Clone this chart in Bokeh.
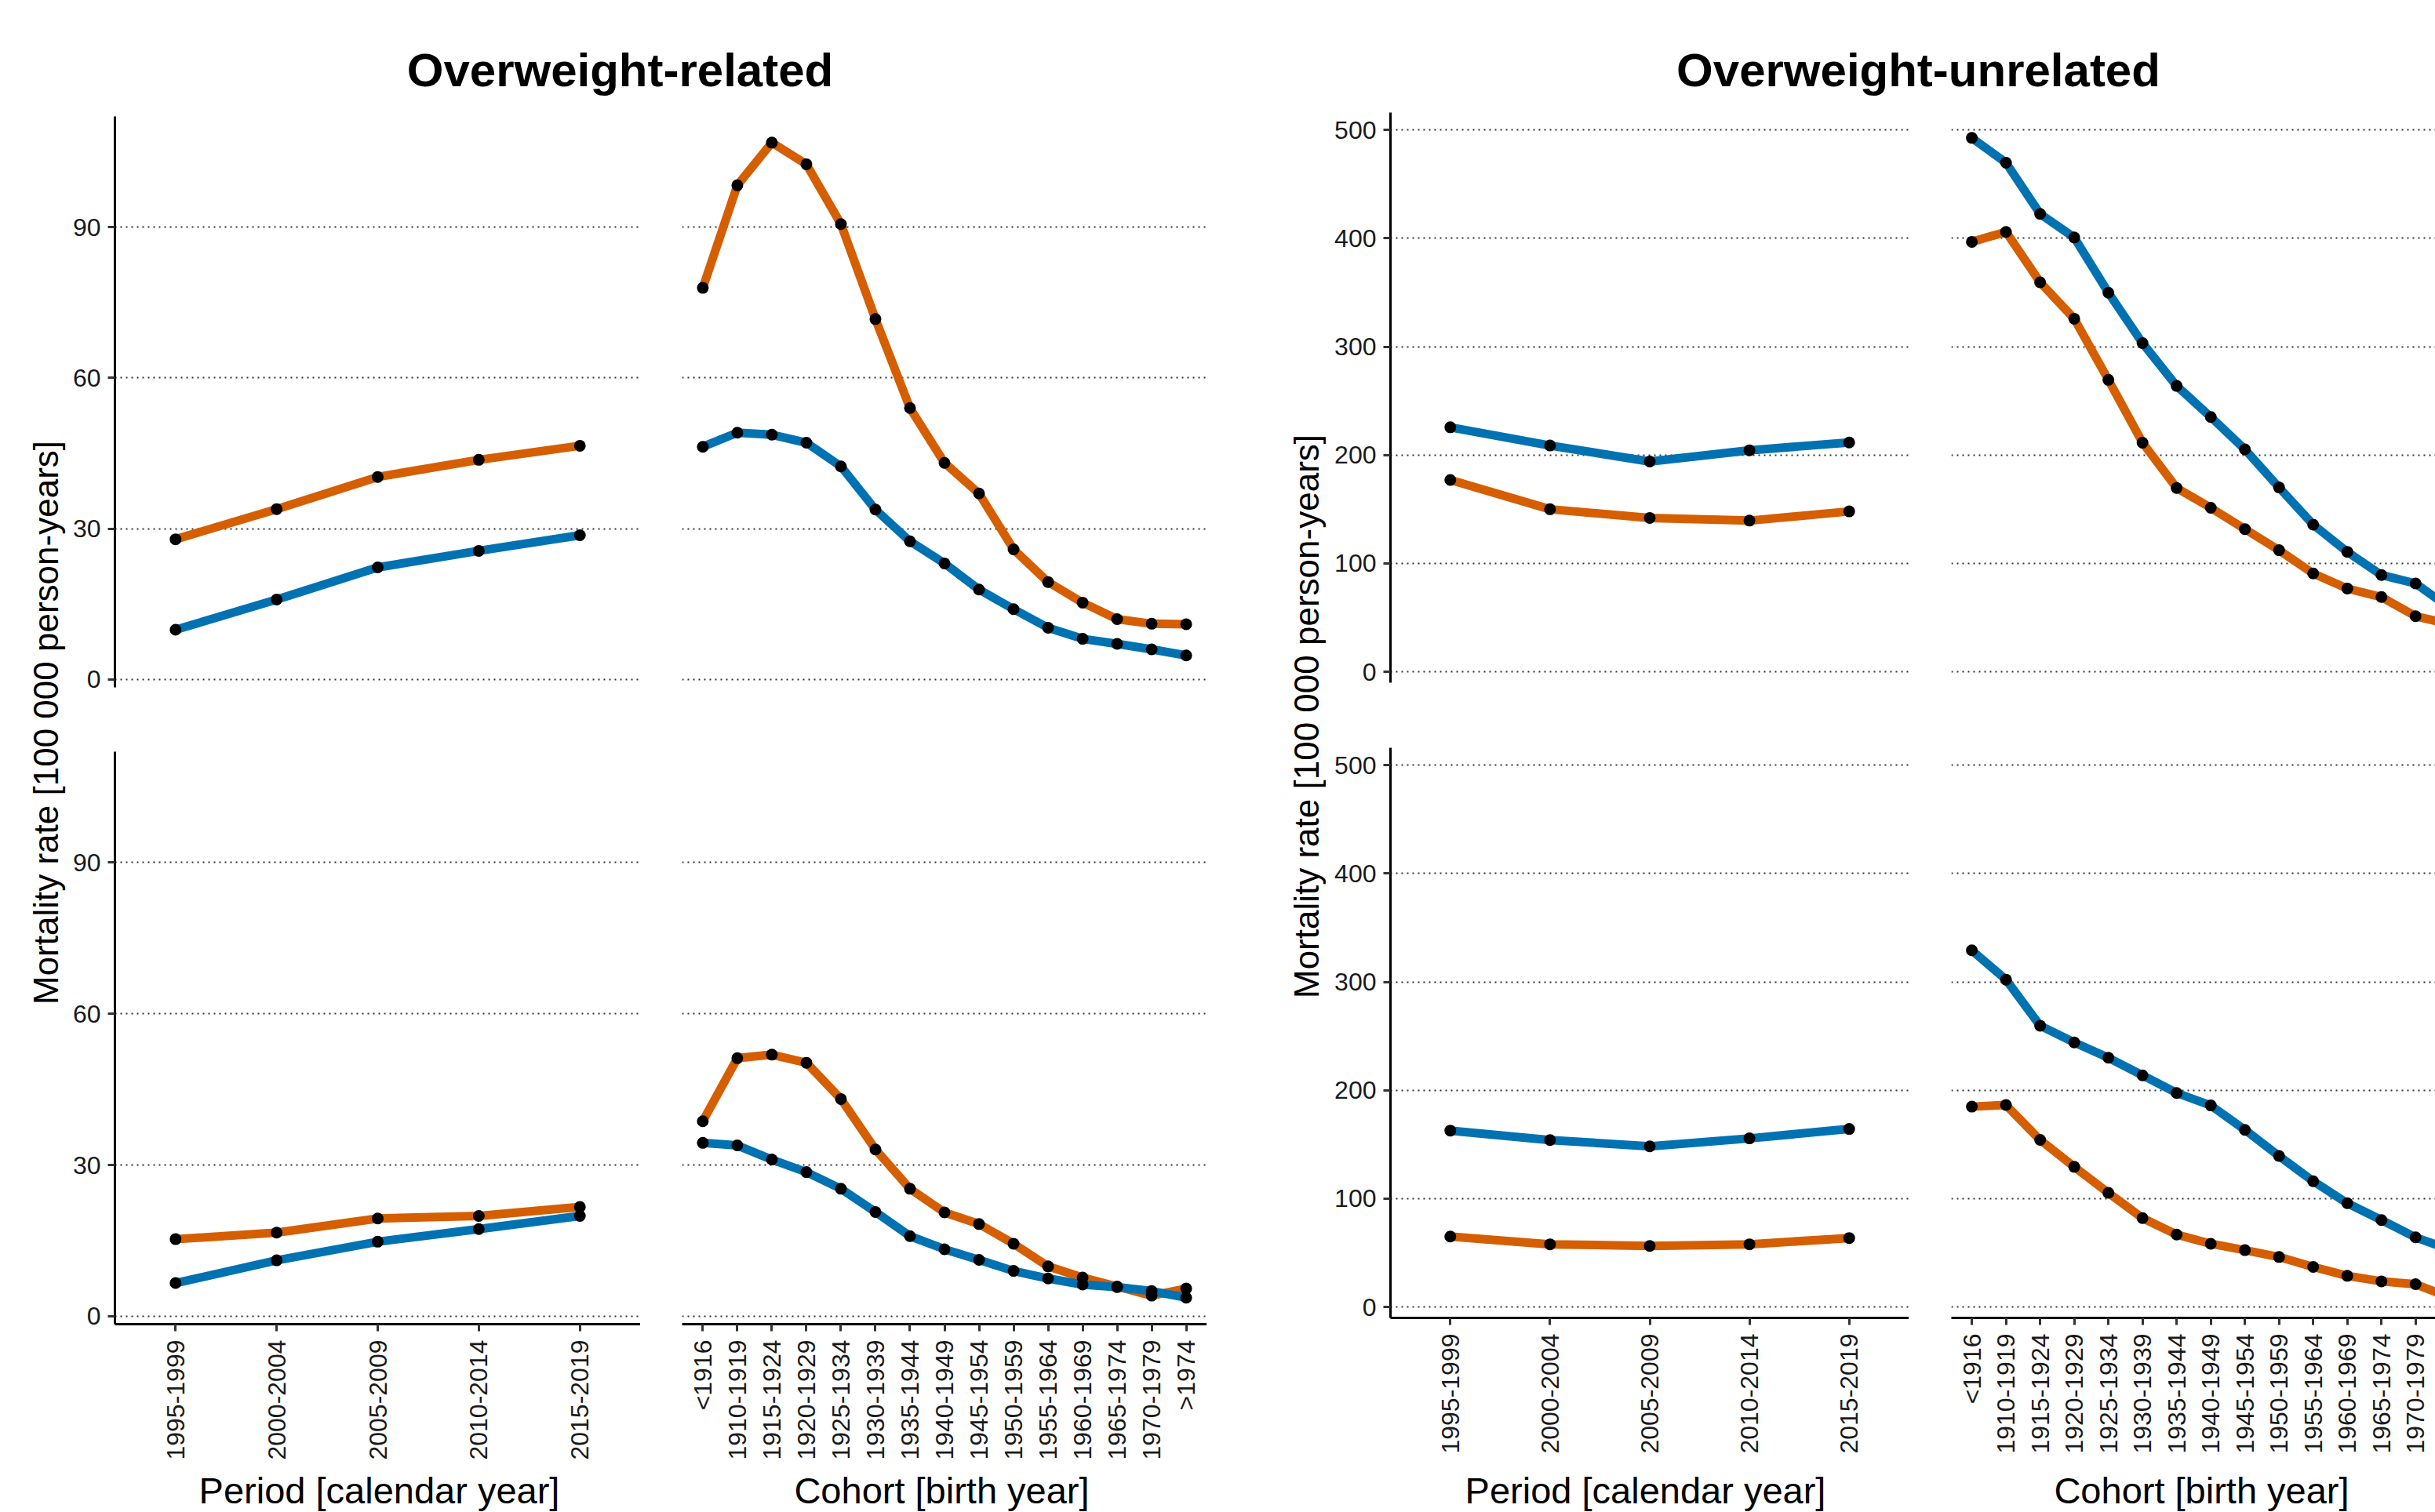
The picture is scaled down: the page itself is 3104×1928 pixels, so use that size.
import math
from bokeh.plotting import figure
from bokeh.models import Range1d, FixedTicker, Grid
from bokeh.layouts import row, column
from bokeh.core.properties import value
from bokeh.embed import file_html
from bokeh.resources import INLINE

# ---------------- data ----------------
periods = ["1995-1999", "2000-2004", "2005-2009", "2010-2014", "2015-2019"]
cohorts = ["<1916", "1910-1919", "1915-1924", "1920-1929", "1925-1934", "1930-1939",
           "1935-1944", "1940-1949", "1945-1954", "1950-1959", "1955-1964", "1960-1969",
           "1965-1974", "1970-1979", ">1974"]

# Overweight-related
rel_top_period_orange = [27.9, 33.9, 40.3, 43.7, 46.5]
rel_top_period_blue = [9.9, 15.9, 22.3, 25.6, 28.7]
rel_top_cohort_orange = [77.9, 98.3, 106.8, 102.5, 90.6, 71.7, 54.0, 43.1, 37.0, 25.9, 19.4, 15.3, 12.0, 11.1, 11.0]
rel_top_cohort_blue = [46.3, 49.1, 48.7, 47.1, 42.4, 33.8, 27.5, 23.1, 17.9, 14.0, 10.3, 8.1, 7.1, 6.0, 4.8]
rel_bot_period_orange = [15.3, 16.6, 19.4, 19.9, 21.7]
rel_bot_period_blue = [6.6, 11.1, 14.8, 17.3, 19.9]
rel_bot_cohort_orange = [38.7, 51.2, 51.9, 50.3, 43.1, 33.1, 25.3, 20.6, 18.3, 14.4, 9.9, 7.7, 5.9, 4.1, 5.5]
rel_bot_cohort_blue = [34.4, 33.9, 31.1, 28.6, 25.3, 20.7, 15.9, 13.3, 11.2, 9.0, 7.5, 6.3, 5.8, 5.0, 3.7]

# Overweight-unrelated
unr_top_period_orange = [177.0, 150.0, 142.0, 139.5, 148.0]
unr_top_period_blue = [225.6, 208.8, 194.0, 204.4, 211.6]
unr_top_cohort_orange = [396.7, 405.9, 359.4, 325.8, 269.4, 211.4, 169.7, 151.3, 131.7, 112.2, 90.8, 76.8, 69.0, 51.3, 44.0]
unr_top_cohort_blue = [492.6, 469.7, 422.5, 400.7, 349.8, 303.3, 263.8, 235.1, 205.2, 170.1, 135.8, 110.7, 89.3, 81.5, 59.0]
unr_bot_period_orange = [65.1, 57.9, 56.4, 57.9, 63.7]
unr_bot_period_blue = [162.8, 154.1, 148.3, 155.6, 164.3]
unr_bot_cohort_orange = [184.9, 186.4, 154.2, 129.4, 105.4, 82.1, 66.9, 58.4, 52.5, 46.2, 37.0, 28.8, 23.7, 21.1, 9.0]
unr_bot_cohort_blue = [329.1, 302.1, 259.6, 244.1, 230.0, 213.8, 197.5, 186.0, 163.5, 139.4, 116.1, 95.8, 80.3, 64.3, 53.0]

rel_yticks = [0, 30, 60, 90]
unr_yticks = [0, 100, 200, 300, 400, 500]

titles = ["Overweight-related", "Overweight-unrelated"]
ylabel = "Mortality rate [100 000 person-years]"
xlabels = ["Period [calendar year]", "Cohort [birth year]"]

ORANGE = "#D55E00"
BLUE = "#0072B2"
FONT = "Liberation Sans"


def panel(cats, orange, blue, yr, xend, width, height, bl, bb, show_y, show_x, yticks):
    xs = list(range(len(cats)))
    p = figure(width=width, height=height, x_range=Range1d(-0.6, xend), y_range=yr,
               x_axis_location="below" if show_x else None,
               y_axis_location="left" if show_y else None,
               min_border_left=bl, min_border_right=0, min_border_top=0, min_border_bottom=bb,
               toolbar_location=None, output_backend="svg", title=None,
               outline_line_color=None, background_fill_color="white")
    p.grid.visible = False
    p.add_layout(Grid(dimension=1, ticker=FixedTicker(ticks=yticks),
                      grid_line_color="#333333", grid_line_width=2, grid_line_dash="2 5"))
    if show_y:
        ax = p.yaxis[0]
        ax.ticker = FixedTicker(ticks=yticks)
        ax.axis_line_color = "black"
        ax.axis_line_width = 3
        ax.major_tick_line_color = "#333333"
        ax.major_tick_line_width = 3
        ax.major_tick_out = 9
        ax.major_tick_in = 0
        ax.minor_tick_line_color = None
        ax.major_label_text_font = FONT
        ax.major_label_text_font_size = "32px"
        ax.major_label_text_color = "#1a1a1a"
        ax.major_label_standoff = 9
    if show_x:
        ax = p.xaxis[0]
        ax.ticker = FixedTicker(ticks=xs)
        ax.major_label_overrides = {i: c for i, c in enumerate(cats)}
        ax.major_label_orientation = math.pi / 2
        ax.axis_line_color = "black"
        ax.axis_line_width = 3
        ax.major_tick_line_color = "#333333"
        ax.major_tick_line_width = 3
        ax.major_tick_out = 9
        ax.major_tick_in = 0
        ax.minor_tick_line_color = None
        ax.major_label_text_font = FONT
        ax.major_label_text_font_size = "32px"
        ax.major_label_text_color = "#1a1a1a"
        ax.major_label_standoff = 11
    p.line(xs, orange, line_color=ORANGE, line_width=11, line_join="round")
    p.line(xs, blue, line_color=BLUE, line_width=11, line_join="round")
    p.scatter(xs, orange, size=15, fill_color="black", line_color=None)
    p.scatter(xs, blue, size=15, fill_color="black", line_color=None)
    return p


def text_fig(w, h, x, y, txt, size, bold=False, angle=0.0, align="center"):
    p = figure(width=w, height=h, x_range=Range1d(0, w), y_range=Range1d(0, h),
               min_border=0, x_axis_location=None, y_axis_location=None,
               toolbar_location=None, output_backend="svg", title=None,
               outline_line_color=None)
    p.grid.visible = False
    p.text(x=[x], y=[y], text=[txt], text_font=value(FONT),
           text_font_size=value(f"{size}px"),
           text_font_style="bold" if bold else "normal",
           text_align=align, text_baseline="alphabetic", angle=angle,
           text_color="black")
    return p


# ---------------- left block: Overweight-related ----------------
yr_L = Range1d(-1.56, 112)
pTL = panel(periods, rel_top_period_orange, rel_top_period_blue, yr_L, 4.6, 732, 810, 62, 82, True, False, rel_yticks)
cTL = panel(cohorts, rel_top_cohort_orange, rel_top_cohort_blue, yr_L, 14.6, 722, 810, 53, 82, False, False, rel_yticks)
pBL = panel(periods, rel_bot_period_orange, rel_bot_period_blue, yr_L, 4.6, 732, 906, 62, 176, True, True, rel_yticks)
cBL = panel(cohorts, rel_bot_cohort_orange, rel_bot_cohort_blue, yr_L, 14.6, 722, 906, 53, 176, False, True, rel_yticks)
titleL = text_fig(1454, 148, 706, 59, titles[0], 60, bold=True)
xlabPL = text_fig(732, 64, 399, 28, xlabels[0], 47)
xlabCL = text_fig(722, 64, 384, 28, xlabels[1], 47)
ylabL = text_fig(84, 1928, 58, 1007, ylabel, 44, angle=math.pi / 2)

blockL = column(titleL, row(pTL, cTL), row(pBL, cBL), row(xlabPL, xlabCL))

# ---------------- right block: Overweight-unrelated ----------------
yr_R = Range1d(-10, 516)
pTR = panel(periods, unr_top_period_orange, unr_top_period_blue, yr_R, 4.6, 743, 810, 82, 83, True, False, unr_yticks)
cTR = panel(cohorts, unr_top_cohort_orange, unr_top_cohort_blue, yr_R, 13.58, 671, 810, 54, 83, False, False, unr_yticks)
pBR = panel(periods, unr_bot_period_orange, unr_bot_period_blue, yr_R, 4.6, 743, 903, 82, 176, True, True, unr_yticks)
cBR = panel(cohorts, unr_bot_cohort_orange, unr_bot_cohort_blue, yr_R, 13.58, 671, 903, 54, 176, False, True, unr_yticks)
titleR = text_fig(1414, 143, 755, 54, titles[1], 60, bold=True)
xlabPR = text_fig(743, 72, 407, 28, xlabels[0], 47)
xlabCR = text_fig(671, 72, 373, 28, xlabels[1], 47)
ylabR = text_fig(152, 1928, 127, 1015, ylabel, 44, angle=math.pi / 2)

blockR = column(titleR, row(pTR, cTR), row(pBR, cBR), row(xlabPR, xlabCR))

layout = row(ylabL, blockL, ylabR, blockR)

open("out.html", "w").write(file_html(layout, INLINE))
